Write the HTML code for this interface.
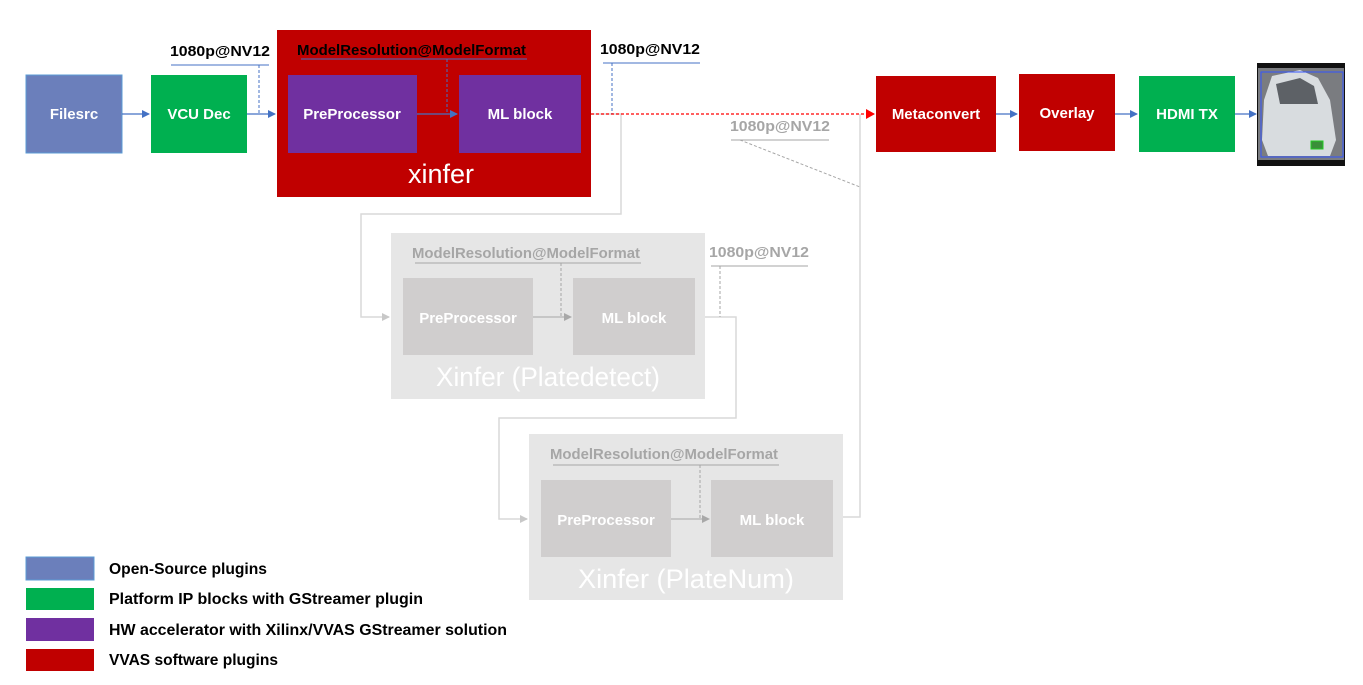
<!DOCTYPE html>
<html><head><meta charset="utf-8"><style>
html,body{margin:0;padding:0;background:#fff;}
svg{display:block;font-family:"Liberation Sans",sans-serif;}
</style></head><body>
<svg width="1363" height="685" viewBox="0 0 1363 685" xmlns="http://www.w3.org/2000/svg">
<defs>
<marker id="ab" markerWidth="8" markerHeight="8" refX="7" refY="4" orient="auto" markerUnits="userSpaceOnUse"><path d="M0,0 L8,4 L0,8 z" fill="#4472c4"/></marker>
<marker id="ar" markerWidth="9" markerHeight="10" refX="8" refY="5" orient="auto" markerUnits="userSpaceOnUse"><path d="M0,0 L9,5 L0,10 z" fill="#ff0000"/></marker>
<marker id="ag" markerWidth="8" markerHeight="8" refX="7" refY="4" orient="auto" markerUnits="userSpaceOnUse"><path d="M0,0 L8,4 L0,8 z" fill="#c8c8c8"/></marker>
<marker id="ag2" markerWidth="8" markerHeight="8" refX="7" refY="4" orient="auto" markerUnits="userSpaceOnUse"><path d="M0,0 L8,4 L0,8 z" fill="#a8a8a8"/></marker>
</defs>

<g fill="none" stroke="#d9d9d9" stroke-width="1.5">
<polyline points="591,114 621,114 621,214 361,214 361,317 389,317" marker-end="url(#ag)"/>
<polyline points="705,317 736,317 736,418 499,418 499,519 527,519" marker-end="url(#ag)"/>
<polyline points="843,517 860,517 860,114"/>
</g>

<rect x="391" y="233" width="314" height="166" fill="#e6e6e6"/>
<rect x="403" y="278" width="130" height="77" fill="#d0cece"/>
<rect x="573" y="278" width="122" height="77" fill="#d0cece"/>
<text x="548" y="386" font-size="27" fill="#fff" text-anchor="middle" textLength="224" lengthAdjust="spacingAndGlyphs">Xinfer (Platedetect)</text>
<text x="468" y="323" font-size="15" font-weight="bold" fill="#fff" text-anchor="middle">PreProcessor</text>
<text x="634" y="323" font-size="15" font-weight="bold" fill="#fff" text-anchor="middle">ML block</text>
<text x="412" y="258" font-size="15" font-weight="bold" fill="#a6a6a6" textLength="228" lengthAdjust="spacingAndGlyphs">ModelResolution@ModelFormat</text>
<line x1="415" y1="263" x2="641" y2="263" stroke="#a6a6a6"/>
<line x1="561" y1="263" x2="561" y2="317" stroke="#a6a6a6" stroke-dasharray="3,2"/>
<line x1="533" y1="317" x2="571" y2="317" stroke="#a6a6a6" marker-end="url(#ag2)"/>
<text x="709" y="257" font-size="15" font-weight="bold" fill="#a6a6a6" textLength="100" lengthAdjust="spacingAndGlyphs">1080p@NV12</text>
<line x1="711" y1="266" x2="808" y2="266" stroke="#a6a6a6"/>
<line x1="720" y1="266" x2="720" y2="317" stroke="#a6a6a6" stroke-dasharray="3,2"/>

<rect x="529" y="434" width="314" height="166" fill="#e6e6e6"/>
<rect x="541" y="480" width="130" height="77" fill="#d0cece"/>
<rect x="711" y="480" width="122" height="77" fill="#d0cece"/>
<text x="686" y="588" font-size="27" fill="#fff" text-anchor="middle" textLength="216" lengthAdjust="spacingAndGlyphs">Xinfer (PlateNum)</text>
<text x="606" y="525" font-size="15" font-weight="bold" fill="#fff" text-anchor="middle">PreProcessor</text>
<text x="772" y="525" font-size="15" font-weight="bold" fill="#fff" text-anchor="middle">ML block</text>
<text x="550" y="459" font-size="15" font-weight="bold" fill="#a6a6a6" textLength="228" lengthAdjust="spacingAndGlyphs">ModelResolution@ModelFormat</text>
<line x1="553" y1="465" x2="779" y2="465" stroke="#a6a6a6"/>
<line x1="700" y1="465" x2="700" y2="519" stroke="#a6a6a6" stroke-dasharray="3,2"/>
<line x1="671" y1="519" x2="709" y2="519" stroke="#a6a6a6" marker-end="url(#ag2)"/>

<text x="730" y="131" font-size="15" font-weight="bold" fill="#a6a6a6" textLength="100" lengthAdjust="spacingAndGlyphs">1080p@NV12</text>
<line x1="731" y1="140" x2="829" y2="140" stroke="#a6a6a6"/>
<line x1="740" y1="140" x2="860" y2="187" stroke="#a6a6a6" stroke-dasharray="3,2"/>

<rect x="26" y="75" width="96" height="78" fill="#6b7fbb" stroke="#5b9bd5" stroke-width="1"/>
<text x="74" y="119" font-size="15" font-weight="bold" fill="#fff" text-anchor="middle">Filesrc</text>
<rect x="151" y="75" width="96" height="78" fill="#00b050"/>
<text x="199" y="119" font-size="15" font-weight="bold" fill="#fff" text-anchor="middle">VCU Dec</text>
<line x1="122" y1="114" x2="149" y2="114" stroke="#4472c4" stroke-width="1.3" marker-end="url(#ab)"/>
<line x1="247" y1="114" x2="275" y2="114" stroke="#4472c4" stroke-width="1.3" marker-end="url(#ab)"/>

<rect x="277" y="30" width="314" height="167" fill="#c00000"/>
<rect x="288" y="75" width="129" height="78" fill="#7030a0"/>
<rect x="459" y="75" width="122" height="78" fill="#7030a0"/>
<text x="352" y="119" font-size="15" font-weight="bold" fill="#fff" text-anchor="middle">PreProcessor</text>
<text x="520" y="119" font-size="15" font-weight="bold" fill="#fff" text-anchor="middle">ML block</text>
<text x="441" y="183" font-size="27" fill="#fff" text-anchor="middle">xinfer</text>
<text x="297" y="55" font-size="15" font-weight="bold" fill="#000" textLength="229" lengthAdjust="spacingAndGlyphs">ModelResolution@ModelFormat</text>
<line x1="301" y1="59" x2="527" y2="59" stroke="#4472c4"/>
<line x1="447" y1="59" x2="447" y2="114" stroke="#4472c4" stroke-dasharray="3,2"/>
<line x1="417" y1="114" x2="457" y2="114" stroke="#4472c4" stroke-width="1.3" marker-end="url(#ab)"/>

<text x="170" y="56" font-size="15" font-weight="bold" fill="#000" textLength="100" lengthAdjust="spacingAndGlyphs">1080p@NV12</text>
<line x1="171" y1="65" x2="269" y2="65" stroke="#4472c4"/>
<line x1="259" y1="65" x2="259" y2="114" stroke="#4472c4" stroke-dasharray="3,2"/>
<text x="600" y="54" font-size="15" font-weight="bold" fill="#000" textLength="100" lengthAdjust="spacingAndGlyphs">1080p@NV12</text>
<line x1="603" y1="63" x2="700" y2="63" stroke="#4472c4"/>
<line x1="612" y1="63" x2="612" y2="114" stroke="#4472c4" stroke-dasharray="3,2"/>

<line x1="591" y1="114" x2="874" y2="114" stroke="#ff0000" stroke-width="1.3" stroke-dasharray="3,2" marker-end="url(#ar)"/>

<rect x="876" y="76" width="120" height="76" fill="#c00000"/>
<text x="936" y="119" font-size="15" font-weight="bold" fill="#fff" text-anchor="middle">Metaconvert</text>
<rect x="1019" y="74" width="96" height="77" fill="#c00000"/>
<text x="1067" y="118" font-size="15" font-weight="bold" fill="#fff" text-anchor="middle">Overlay</text>
<rect x="1139" y="76" width="96" height="76" fill="#00b050"/>
<text x="1187" y="119" font-size="15" font-weight="bold" fill="#fff" text-anchor="middle">HDMI TX</text>
<line x1="996" y1="114" x2="1017" y2="114" stroke="#4472c4" stroke-width="1.3" marker-end="url(#ab)"/>
<line x1="1115" y1="114" x2="1137" y2="114" stroke="#4472c4" stroke-width="1.3" marker-end="url(#ab)"/>
<line x1="1235" y1="114" x2="1256" y2="114" stroke="#4472c4" stroke-width="1.3" marker-end="url(#ab)"/>

<rect x="1257" y="63" width="88" height="103" fill="#111"/>
<rect x="1258" y="68" width="86" height="92" fill="#7a7c80"/>
<path d="M1264,100 L1272,76 L1300,70 L1318,78 L1330,100 L1336,140 L1330,156 L1268,156 L1262,140 z" fill="#d8dcdf"/>
<path d="M1276,84 L1300,78 L1314,86 L1318,104 L1280,104 z" fill="#5d6166"/>
<rect x="1311" y="141" width="12" height="8" fill="#3a8f3a" stroke="#22cc22"/>
<rect x="1261" y="72" width="82" height="85" fill="none" stroke="#3355ff" stroke-width="1"/>

<rect x="26" y="557" width="68" height="23" fill="#6b7fbb" stroke="#5b9bd5"/>
<rect x="26" y="588" width="68" height="22" fill="#00b050"/>
<rect x="26" y="618" width="68" height="23" fill="#7030a0"/>
<rect x="26" y="649" width="68" height="22" fill="#c00000"/>
<g font-size="16" font-weight="bold" fill="#000">
<text x="109" y="574" textLength="158" lengthAdjust="spacingAndGlyphs">Open-Source plugins</text>
<text x="109" y="604" textLength="314" lengthAdjust="spacingAndGlyphs">Platform IP blocks with GStreamer plugin</text>
<text x="109" y="635" textLength="398" lengthAdjust="spacingAndGlyphs">HW accelerator with Xilinx/VVAS GStreamer solution</text>
<text x="109" y="665" textLength="169" lengthAdjust="spacingAndGlyphs">VVAS software plugins</text>
</g>
</svg>
</body></html>
